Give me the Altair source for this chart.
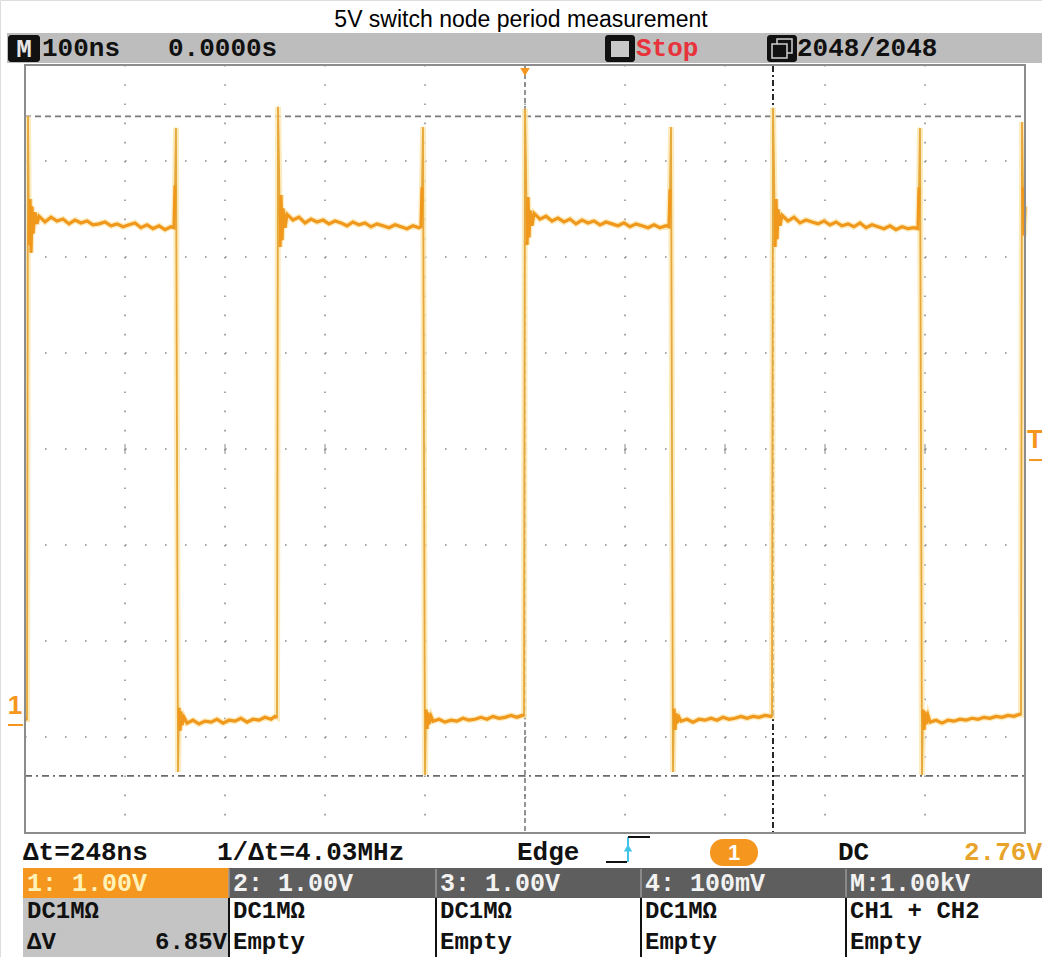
import altair as alt
import pandas as pd

TITLE = "5V switch node period measurement"

# CH1 trace: time in ns (0 = trigger point, screen centre), voltage in V
t_vals = [
    -500, -498, -497, -496, -495, -494, -493, -492, -490, -488,
    -486, -480, -474, -468, -462, -456, -450, -444, -438, -432, -426, -420,
    -414, -408, -402, -396, -390, -384, -378, -372, -366, -360, -354,
    -351, -350, -349, -347, -346, -345, -344, -343, -341,
    -338, -332, -326, -320, -314, -308, -302, -296, -290, -284, -278, -272,
    -266, -260, -254, -250,
    -248, -247, -246, -245, -244, -243, -242, -240,
    -238, -232, -226, -220, -214, -208, -202, -196, -190, -184, -178, -172,
    -166, -160, -154, -148, -142, -136, -130, -124, -118, -112, -106,
    -104, -103, -102, -100, -99, -98, -97, -96, -94,
    -92, -86, -80, -74, -68, -62, -56, -50, -44, -38, -32, -26, -20, -14, -8, -3,
    -1, 0, 1, 2, 3, 4, 5, 7,
    9, 15, 21, 27, 33, 39, 45, 51, 57, 63, 69, 75, 81, 87, 93, 99, 105, 111,
    117, 123, 129, 135, 141,
    144, 145, 146, 148, 149, 150, 151, 152, 154,
    156, 162, 168, 174, 180, 186, 192, 198, 204, 210, 216, 222, 228, 234, 240, 246,
    247, 248, 249, 250, 251, 252, 253, 255,
    257, 263, 269, 275, 281, 287, 293, 299, 305, 311, 317, 323, 329, 335, 341,
    347, 353, 359, 365, 371, 377, 383, 389,
    393, 394, 395, 397, 398, 399, 400, 401, 403,
    405, 411, 417, 423, 429, 435, 441, 447, 453, 459, 465, 471, 477, 483, 489, 494,
    496, 497, 498, 499, 500,
]
v_vals = [
    0.06, 0.06, 6.34, 5.00, 5.48, 4.92, 5.40, 5.12, 5.34, 5.22,
    5.30, 5.24, 5.29, 5.25, 5.27, 5.22, 5.26, 5.23, 5.25, 5.21, 5.22, 5.24,
    5.20, 5.22, 5.19, 5.21, 5.23, 5.18, 5.21, 5.17, 5.20, 5.16, 5.19,
    5.18, 5.62, 6.22, -0.49, 0.18, -0.06, 0.14, 0.00, 0.08,
    0.02, 0.05, 0.01, 0.04, 0.03, 0.06, 0.02, 0.05, 0.04, 0.07, 0.03, 0.06,
    0.05, 0.08, 0.06, 0.09,
    0.08, 6.44, 5.85, 4.98, 5.52, 5.05, 5.38, 5.18,
    5.32, 5.26, 5.29, 5.23, 5.27, 5.24, 5.26, 5.22, 5.25, 5.23, 5.20, 5.24,
    5.21, 5.23, 5.19, 5.22, 5.20, 5.18, 5.21, 5.19, 5.17, 5.20, 5.18,
    5.19, 5.60, 6.23, -0.52, 0.16, -0.04, 0.13, 0.01, 0.09,
    0.04, 0.06, 0.03, 0.05, 0.04, 0.07, 0.05, 0.06, 0.08, 0.06, 0.09, 0.07,
    0.08, 0.10, 0.08, 0.10,
    0.10, 6.42, 5.80, 5.00, 5.50, 5.08, 5.36, 5.20,
    5.33, 5.27, 5.30, 5.25, 5.28, 5.24, 5.27, 5.22, 5.26, 5.23, 5.25, 5.21,
    5.24, 5.22, 5.20, 5.23, 5.19, 5.22, 5.20, 5.18, 5.21, 5.18, 5.20,
    5.19, 5.58, 6.23, -0.49, 0.17, -0.05, 0.12, 0.02, 0.08,
    0.04, 0.06, 0.03, 0.06, 0.05, 0.07, 0.05, 0.08, 0.06, 0.07, 0.09, 0.07,
    0.09, 0.08, 0.10, 0.09,
    0.09, 6.43, 5.82, 4.98, 5.48, 5.06, 5.37, 5.20,
    5.31, 5.25, 5.29, 5.23, 5.26, 5.24, 5.22, 5.25, 5.21, 5.24, 5.20, 5.22,
    5.19, 5.23, 5.18, 5.21, 5.19, 5.17, 5.20, 5.16, 5.19, 5.17, 5.18,
    5.17, 5.60, 6.22, -0.52, 0.16, -0.05, 0.14, 0.01, 0.10,
    0.03, 0.05, 0.02, 0.05, 0.04, 0.06, 0.05, 0.07, 0.06, 0.08, 0.07, 0.09,
    0.08, 0.10, 0.09, 0.11,
    0.11, 6.28, 5.60, 5.10, 5.40,
]

grid_t = [-400, -300, -200, -100, 0, 100, 200, 300, 400]          # ns, 100 ns/div
grid_v = [-0.125, 0.875, 1.875, 2.875, 3.875, 4.875, 5.875]       # V, 1 V/div
centre_v = [2.875]
trigger_t = [0]
t_cursors = [0, 248]          # Δt = 248 ns
v_cursors = [6.34, -0.53]     # ΔV ≈ 6.85 V
trigger_level = [2.76]
ground = [0.0]

# readout texts
top_texts = ["100ns", "0.0000s", "Stop", "2048/2048"]
meas_texts = ["Δt=248ns", "1/Δt=4.03MHz", "Edge", "1", "DC", "2.76V"]
chan_head = ["1: 1.00V", "2: 1.00V", "3: 1.00V", "4: 100mV", "M:1.00kV"]
chan_row1 = ["DC1MΩ", "DC1MΩ", "DC1MΩ", "DC1MΩ", "CH1 + CH2"]
chan_row2 = ["Empty", "Empty", "Empty", "Empty"]
dv_text = ["ΔV", "6.85V"]

# ---------------- helpers ----------------
W, H = 1042, 957
XS = alt.Scale(domain=[-500, 500], range=[25, 1025])
YS = alt.Scale(domain=[-1.125, 6.875], range=[833, 65])
one = pd.DataFrame({"d": [0]})
MONO = "Liberation Mono"
ORANGE = "#F5961E"


def X(f):
    return alt.X(f, scale=XS, axis=None)


def Y(f):
    return alt.Y(f, scale=YS, axis=None)


def txt(s, x, y, color="#111111", size=26, align="left", font=MONO, weight="bold",
        baseline="middle"):
    return alt.Chart(one).mark_text(
        text=s, align=align, baseline=baseline, font=font, fontSize=size,
        color=color, fontWeight=weight
    ).encode(x=alt.value(x), y=alt.value(y))


def box(x1, x2, y1, y2, **kw):
    return alt.Chart(one).mark_rect(**kw).encode(
        x=alt.value(x1), x2=alt.value(x2), y=alt.value(y1), y2=alt.value(y2))


def seg(x1, y1, x2, y2, color="#111111", width=2):
    return alt.Chart(one).mark_rule(color=color, strokeWidth=width).encode(
        x=alt.value(x1), y=alt.value(y1), x2=alt.value(x2), y2=alt.value(y2))


layers = []

# title
layers.append(txt(TITLE, 521, 27, color="#000000", size=23, align="center",
                  font="Liberation Sans", weight="normal", baseline="alphabetic"))

# top status bar
layers.append(box(7, 1042, 33, 63, color="#BDBDBD"))
layers.append(box(8, 40, 35, 62, color="#111111", cornerRadius=3))
layers.append(txt("M", 24, 49, color="#E6E6E6", size=26, align="center"))
layers.append(txt(top_texts[0], 42, 48))
layers.append(txt(top_texts[1], 168, 48))
layers.append(box(605, 635, 35, 62, color="#111111", cornerRadius=3))
layers.append(box(611, 629, 41, 57, color="#C8C8C8"))
layers.append(txt(top_texts[2], 636, 48, color="#E8323C"))
layers.append(box(767, 797, 35, 62, color="#111111", cornerRadius=3))
layers.append(box(777, 792, 39, 53, filled=False, stroke="#D0D0D0", strokeWidth=1.5))
layers.append(box(772, 787, 44, 58, color="#111111", stroke="#D0D0D0", strokeWidth=1.5))
layers.append(txt(top_texts[3], 797, 48))

# screen grid (dotted)
gv = pd.DataFrame({"v": grid_v})
gt = pd.DataFrame({"t": grid_t})
layers.append(alt.Chart(gv).mark_rule(color="#8E8E8E", strokeWidth=1.6,
                                      strokeDash=[1.6, 18.4]).encode(
    y=Y("v:Q"), x=alt.value(25), x2=alt.value(1025)))
layers.append(alt.Chart(gt).mark_rule(color="#8E8E8E", strokeWidth=1.6,
                                      strokeDash=[1.6, 17.6]).encode(
    x=X("t:Q"), y=alt.value(65), y2=alt.value(833)))
gtc = pd.DataFrame({"t": grid_t, "v": centre_v * len(grid_t)})
layers.append(alt.Chart(gtc).mark_tick(color="#8E8E8E", thickness=1.5, size=10,
                                       orient="vertical").encode(
    x=X("t:Q"), y=Y("v:Q")))

# voltage cursors
cv_top = pd.DataFrame({"v": v_cursors[:1]})
cv_bot = pd.DataFrame({"v": v_cursors[1:]})
layers.append(alt.Chart(cv_top).mark_rule(color="#7A7A7A", strokeWidth=1.6,
                                          strokeDash=[6, 4]).encode(
    y=Y("v:Q"), x=alt.value(25), x2=alt.value(1025)))
layers.append(alt.Chart(cv_bot).mark_rule(color="#6A6A6A", strokeWidth=1.6,
                                          strokeDash=[7, 4, 2, 4]).encode(
    y=Y("v:Q"), x=alt.value(25), x2=alt.value(1025)))

# time cursors
ct_a = pd.DataFrame({"t": t_cursors[:1]})
ct_b = pd.DataFrame({"t": t_cursors[1:]})
layers.append(alt.Chart(ct_a).mark_rule(color="#7A7A7A", strokeWidth=1.6,
                                        strokeDash=[5, 3]).encode(
    x=X("t:Q"), y=alt.value(66), y2=alt.value(832)))
layers.append(alt.Chart(ct_b).mark_rule(color="#111111", strokeWidth=1.8,
                                        strokeDash=[6, 3, 2, 3]).encode(
    x=X("t:Q"), y=alt.value(66), y2=alt.value(832)))

# trace: glow, thin edges, and thicker settled (flat) parts
tr = pd.DataFrame({"t": t_vals, "v": v_vals, "i": list(range(len(t_vals)))})
flat = ((tr["v"] - 5.24).abs() < 0.45) | ((tr["v"] - 0.05).abs() < 0.25)
tr["run"] = (flat != flat.shift()).cumsum()
flat_df = tr[flat]
layers.append(alt.Chart(tr).mark_line(color="#FBE6AE", strokeWidth=6, opacity=0.8).encode(
    x=X("t:Q"), y=Y("v:Q"), order="i:Q"))
layers.append(alt.Chart(tr).mark_line(color="#E6A83A", strokeWidth=1.8).encode(
    x=X("t:Q"), y=Y("v:Q"), order="i:Q"))
layers.append(alt.Chart(flat_df).mark_line(color="#F0981C", strokeWidth=3.2).encode(
    x=X("t:Q"), y=Y("v:Q"), order="i:Q", detail="run:N"))

# screen border
layers.append(box(25, 1025, 65, 833, filled=False, stroke="#8C8C8C", strokeWidth=2))

# trigger position marker, trigger level "T", channel 1 ground "1"
layers.append(alt.Chart(pd.DataFrame({"t": trigger_t})).mark_point(
    shape="triangle-down", filled=True, size=90, color=ORANGE, opacity=1).encode(
    x=X("t:Q"), y=alt.value(72)))
layers.append(txt("T", 1035, 440, color=ORANGE, size=26, align="center",
                  font="Liberation Sans"))
layers.append(alt.Chart(pd.DataFrame({"v": trigger_level})).mark_rule(
    color=ORANGE, strokeWidth=2).encode(
    x=alt.value(1029), x2=alt.value(1042), y=Y("v:Q")))
layers.append(txt("1", 15, 706, color=ORANGE, size=26, align="center",
                  font="Liberation Sans"))
layers.append(alt.Chart(pd.DataFrame({"v": ground})).mark_rule(
    color=ORANGE, strokeWidth=2).encode(
    x=alt.value(8), x2=alt.value(23), y=Y("v:Q")))

# measurement row
layers.append(txt(meas_texts[0], 23, 852))
layers.append(txt(meas_texts[1], 217, 852))
layers.append(txt(meas_texts[2], 517, 852))
layers.append(seg(606, 862, 627, 862))
layers.append(seg(628, 862, 628, 837, color="#3FC4E6", width=2))
layers.append(seg(628, 837, 650, 837))
layers.append(alt.Chart(one).mark_point(shape="triangle-up", filled=True, size=70,
                                        color="#3FC4E6", opacity=1).encode(
    x=alt.value(628), y=alt.value(848)))
layers.append(box(710, 758, 839, 866, color=ORANGE, cornerRadius=13))
layers.append(txt(meas_texts[3], 734, 853, color="#FFFFFF", size=22, align="center",
                  font="Liberation Sans"))
layers.append(txt(meas_texts[4], 838, 852))
layers.append(txt(meas_texts[5], 1042, 852, color="#E8A42A", align="right"))

# channel table
cols = [23, 229, 436, 641, 846]
layers.append(box(23, 1042, 868, 898, color="#5E5E5E"))
layers.append(box(23, 229, 868, 898, color=ORANGE))
layers.append(box(23, 229, 898, 957, color="#C4C4C4"))
for c in cols[1:]:
    layers.append(seg(c, 869, c, 897, color="#9A9A9A", width=1.5))
    layers.append(seg(c, 898, c, 957, color="#111111", width=2))
for i, c in enumerate(cols):
    layers.append(txt(chan_head[i], c + 4, 883, size=25,
                      color="#FFF2B8" if i == 0 else "#F2F2F2"))
    layers.append(txt(chan_row1[i], c + 4, 911, size=24))
for i, c in enumerate(cols[1:]):
    layers.append(txt(chan_row2[i], c + 4, 942, size=24))
layers.append(txt(dv_text[0], 27, 942, size=24))
layers.append(txt(dv_text[1], 227, 942, size=24, align="right"))

chart = alt.layer(*layers).properties(
    width=W, height=H, padding=0, autosize=alt.AutoSizeParams(type="none")
).configure_view(strokeWidth=0).configure(background="#FFFFFF")

chart.save("out.html", embed_options={"renderer": "svg", "actions": False})
